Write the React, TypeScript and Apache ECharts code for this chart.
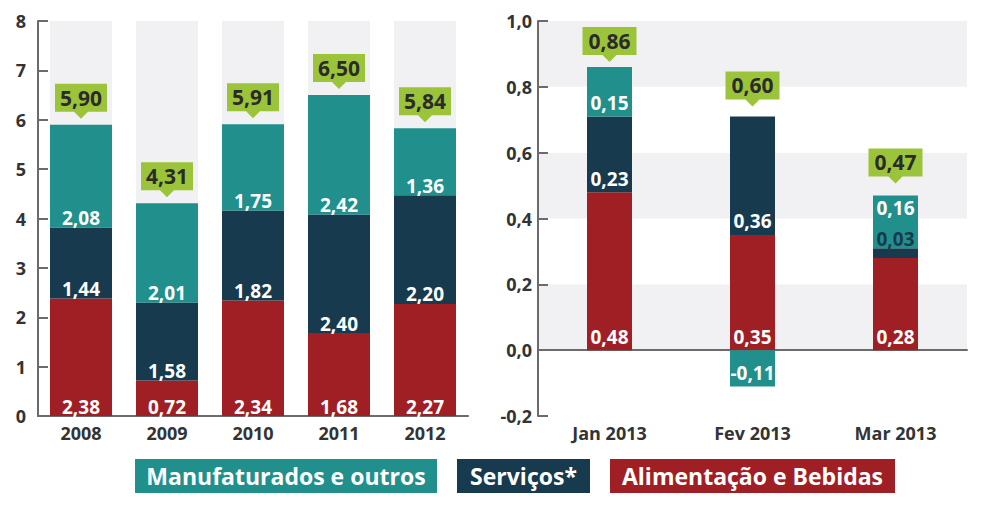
import React, { useEffect, useRef } from "react";
import * as echarts from "echarts";

const years = ["2008", "2009", "2010", "2011", "2012"];
const alimAnual = [2.38, 0.72, 2.34, 1.68, 2.27];
const servAnual = [1.44, 1.58, 1.82, 2.4, 2.2];
const manufAnual = [2.08, 2.01, 1.75, 2.42, 1.36];
const totalAnual = [5.9, 4.31, 5.91, 6.5, 5.84];

const months = ["Jan 2013", "Fev 2013", "Mar 2013"];
const alimMensal = [0.48, 0.35, 0.28];
const servMensal = [0.23, 0.36, 0.03];
const manufMensal = [0.15, -0.11, 0.16];
const totalMensal = [0.86, 0.6, 0.47];

const legendNames = ["Manufaturados e outros", "Serviços*", "Alimentação e Bebidas"];

const TEAL = "#21908d";
const NAVY = "#173a4e";
const RED = "#a01f24";
const GREEN = "#9cc43a";
const GRAYBG = "#f1f1f3";
const AXIS = "#6b6b6b";
const TXT = "#333333";
const FONT = "'Open Sans', Lato, sans-serif";

const fmt = (v: number, d: number) => v.toFixed(d).replace(".", ",");

function topOf(...arrs: number[][]) {
  return arrs[0].map((_, i) => arrs.reduce((s, a) => s + (a[i] > 0 ? a[i] : 0), 0));
}

export default function App() {
  const ref = useRef<HTMLDivElement>(null);
  useEffect(() => {
    if (!ref.current) return;
    const chart = echarts.init(ref.current, undefined, { renderer: "svg" });

    const barLabel = (distance: number) => ({
      show: true,
      position: "insideBottom",
      distance,
      color: "#fff",
      fontWeight: "bold",
      fontSize: 19,
      fontFamily: FONT,
      formatter: (p: any) => fmt(p.value, 2),
    });

    const calloutPathL = "path://M0,0 H52 V28 H33 L26,35 L19,28 H0 Z";
    const calloutPathR = "path://M0,0 H54 V28 H34 L27,35 L20,28 H0 Z";

    const tl = topOf(alimAnual, servAnual, manufAnual);
    const tr = topOf(alimMensal, servMensal, manufMensal);
    const gapR = [5, 10, 12];

    const yLabelStyle = { color: TXT, fontWeight: "bold", fontSize: 18, fontFamily: FONT };
    const xLabelStyle = { color: TXT, fontWeight: "bold", fontSize: 18, fontFamily: FONT };

    const legendBoxes = [
      { name: legendNames[0], x: 135, w: 302, color: TEAL },
      { name: legendNames[1], x: 457, w: 133, color: NAVY },
      { name: legendNames[2], x: 610, w: 285, color: RED },
    ];

    const calloutLabel = (totals: number[]) => ({
      show: true,
      position: "inside",
      offset: [0, -3.5],
      color: "#2b2b2b",
      fontWeight: "bold",
      fontSize: 21,
      fontFamily: FONT,
      formatter: (p: any) => fmt(totals[p.dataIndex], 2),
    });

    const option: any = {
      animation: false,
      backgroundColor: "#fff",
      grid: [
        { left: 38, top: 21, width: 430, height: 395 },
        { left: 538, top: 21, width: 429, height: 395 },
      ],
      xAxis: [
        {
          type: "category",
          gridIndex: 0,
          data: years,
          axisLine: { lineStyle: { color: AXIS, width: 2 } },
          axisTick: { inside: true, length: 9, lineStyle: { color: AXIS, width: 2 } },
          axisLabel: { ...xLabelStyle, margin: 8 },
        },
        {
          type: "category",
          gridIndex: 1,
          data: months,
          position: "bottom",
          axisLine: { show: false, onZero: false },
          axisTick: { show: false },
          axisLabel: { ...xLabelStyle, margin: 8 },
        },
        {
          type: "category",
          gridIndex: 1,
          data: months,
          position: "bottom",
          axisLine: { onZero: true, lineStyle: { color: AXIS, width: 2 } },
          axisTick: { inside: true, length: 9, lineStyle: { color: AXIS, width: 2 } },
          axisLabel: { show: false },
        },
      ],
      yAxis: [
        {
          type: "value",
          gridIndex: 0,
          min: 0,
          max: 8,
          interval: 1,
          axisLine: { show: true, lineStyle: { color: AXIS, width: 2 } },
          axisTick: { show: true, inside: true, length: 10, lineStyle: { color: AXIS, width: 2 } },
          splitLine: { show: false },
          axisLabel: { ...yLabelStyle, margin: 12, formatter: (v: number) => String(v) },
        },
        {
          type: "value",
          gridIndex: 1,
          min: -0.2,
          max: 1.0,
          interval: 0.2,
          axisLine: { show: true, lineStyle: { color: AXIS, width: 2 } },
          axisTick: { show: true, inside: true, length: 10, lineStyle: { color: AXIS, width: 2 } },
          splitLine: { show: false },
          splitArea: { show: true, areaStyle: { color: ["#ffffff", GRAYBG] } },
          axisLabel: { ...yLabelStyle, margin: 6, formatter: (v: number) => fmt(v, 1) },
        },
      ],
      series: [
        {
          type: "bar",
          name: legendNames[2],
          xAxisIndex: 0,
          yAxisIndex: 0,
          stack: "a",
          barWidth: 62,
          data: alimAnual,
          itemStyle: { color: RED },
          showBackground: true,
          backgroundStyle: { color: GRAYBG },
          label: barLabel(0),
        },
        {
          type: "bar",
          name: legendNames[1],
          xAxisIndex: 0,
          yAxisIndex: 0,
          stack: "a",
          barWidth: 62,
          data: servAnual,
          itemStyle: { color: NAVY },
          label: barLabel(0),
        },
        {
          type: "bar",
          name: legendNames[0],
          xAxisIndex: 0,
          yAxisIndex: 0,
          stack: "a",
          barWidth: 62,
          data: manufAnual,
          itemStyle: { color: TEAL },
          label: barLabel(0),
        },
        {
          type: "scatter",
          xAxisIndex: 0,
          yAxisIndex: 0,
          z: 5,
          symbol: calloutPathL,
          symbolSize: [52, 35],
          symbolOffset: [0, -(35 / 2 + 6)],
          itemStyle: { color: GREEN, opacity: 1 },
          data: tl,
          label: calloutLabel(totalAnual),
        },
        {
          type: "bar",
          name: legendNames[2],
          xAxisIndex: 2,
          yAxisIndex: 1,
          stack: "b",
          barWidth: 45,
          data: alimMensal,
          itemStyle: { color: RED },
          label: barLabel(4),
        },
        {
          type: "bar",
          name: legendNames[1],
          xAxisIndex: 2,
          yAxisIndex: 1,
          stack: "b",
          barWidth: 45,
          data: servMensal.map((v, i) =>
            i === 2
              ? { value: v, label: { position: "top", distance: 0, color: NAVY } }
              : v
          ),
          itemStyle: { color: NAVY },
          label: barLabel(4),
        },
        {
          type: "bar",
          name: legendNames[0],
          xAxisIndex: 2,
          yAxisIndex: 1,
          stack: "b",
          barWidth: 45,
          data: manufMensal.map((v, i) =>
            i === 2 ? { value: v, label: { position: "insideTop", distance: 3 } } : v
          ),
          itemStyle: { color: TEAL },
          label: barLabel(4),
        },
        {
          type: "scatter",
          xAxisIndex: 2,
          yAxisIndex: 1,
          z: 5,
          symbol: calloutPathR,
          symbolSize: [54, 35],
          itemStyle: { color: GREEN, opacity: 1 },
          data: tr.map((t, i) => ({ value: t, symbolOffset: [0, -(35 / 2 + gapR[i])] })),
          label: calloutLabel(totalMensal),
        },
      ],
      graphic: legendBoxes.map((l) => ({
        type: "group",
        x: l.x,
        y: 459,
        children: [
          { type: "rect", shape: { x: 0, y: 0, width: l.w, height: 34 }, style: { fill: l.color } },
          {
            type: "text",
            x: l.w / 2,
            y: 17,
            style: {
              text: l.name,
              fill: "#fff",
              font: `bold 23px ${FONT}`,
              align: "center",
              verticalAlign: "middle",
            },
          },
        ],
      })),
    };

    chart.setOption(option);
    return () => chart.dispose();
  }, []);

  return (
    <div
      ref={ref}
      style={{ position: "absolute", left: 0, top: 0, width: 1000, height: 506 }}
    />
  );
}
